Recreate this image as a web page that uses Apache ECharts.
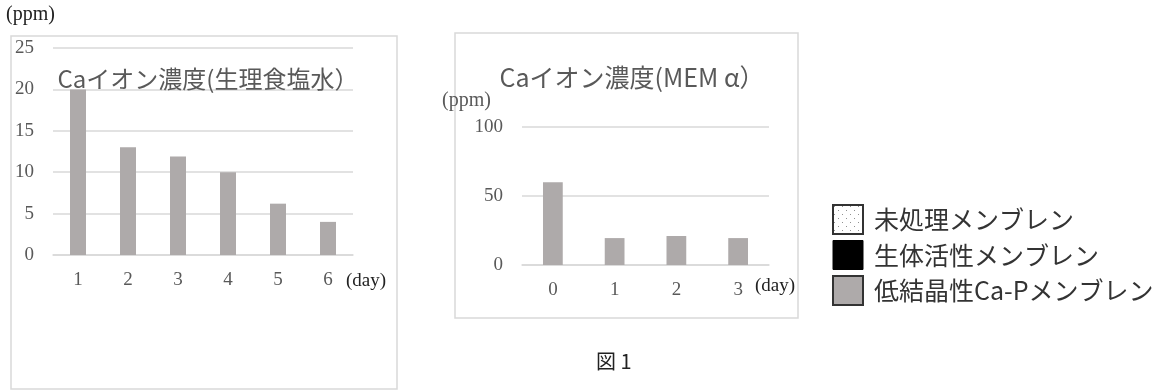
<!DOCTYPE html>
<html>
<head>
<meta charset="utf-8">
<script src="https://cdn.jsdelivr.net/npm/echarts@6/dist/echarts.min.js"></script>
<style>
  html, body { margin: 0; padding: 0; background: #fff; }
  #main { width: 1171px; height: 391px; }
</style>
</head>
<body>
<div id="main"></div>
<script>
// 生理食塩水
var salineDays = ['1', '2', '3', '4', '5', '6'];
var salineCaP = [20, 13, 11.9, 10, 6.2, 4];
// MEMα
var memDays = ['0', '1', '2', '3'];
var memCaP = [60, 19.5, 21, 19.5];
var seriesNames = ['未処理メンブレン', '生体活性メンブレン', '低結晶性Ca-Pメンブレン'];

var serif = '"Liberation Serif", "DejaVu Serif", serif';
var jp = '"Noto Sans CJK JP", sans-serif';
var gray = '#595959';

// 点々のパターン
function dotPattern () {
  var c = document.createElement('canvas');
  c.width = 8; c.height = 8;
  var ctx = c.getContext('2d');
  ctx.fillStyle = '#fff';
  ctx.fillRect(0, 0, 8, 8);
  ctx.fillStyle = '#909090';
  ctx.fillRect(1, 1, 1, 1);
  ctx.fillRect(5, 5, 1, 1);
  return { image: c, repeat: 'repeat' };
}

var myChart = echarts.init(document.getElementById('main'));

function yAxisOf (idx, max, interval) {
  return {
    gridIndex: idx, type: 'value', min: 0, max: max, interval: interval,
    axisLine: { show: false }, axisTick: { show: false },
    axisLabel: { color: gray, fontFamily: serif, fontSize: 19, margin: 19 },
    splitLine: { lineStyle: { color: '#d9d9d9', width: 1.5 } }
  };
}
function xAxisOf (idx, data, margin) {
  return {
    gridIndex: idx, type: 'category', data: data,
    axisLine: { lineStyle: { color: '#d9d9d9', width: 1.5 } },
    axisTick: { show: false },
    axisLabel: { color: gray, fontFamily: serif, fontSize: 19, margin: margin }
  };
}
function barsOf (idx, data) {
  return seriesNames.map(function (name, i) {
    return {
      name: name, type: 'bar', xAxisIndex: idx, yAxisIndex: idx,
      data: i === 2 ? data : [],
      barWidth: '32%', barGap: '-100%',
      itemStyle: { color: '#aeaaaa' },
      silent: true
    };
  });
}

var option = {
  animation: false,
  title: [{
    text: 'Caイオン濃度(生理食塩水）',
    left: 203, top: 62, textAlign: 'center',
    textStyle: { fontFamily: jp, fontWeight: 'normal', fontSize: 24, color: gray }
  }, {
    text: 'Caイオン濃度(MEM α）',
    left: 627, top: 60, textAlign: 'center',
    textStyle: { fontFamily: jp, fontWeight: 'normal', fontSize: 25, color: gray }
  }],
  legend: {
    orient: 'vertical', left: 827, top: 199,
    icon: 'rect', itemWidth: 30, itemHeight: 29, itemGap: 5,
    selectedMode: false,
    textStyle: { fontFamily: jp, fontSize: 25, color: '#333', padding: [0, 0, 0, 6] },
    data: [
      { name: seriesNames[0], itemStyle: { color: dotPattern(), borderColor: '#333', borderWidth: 2 } },
      { name: seriesNames[1], itemStyle: { color: '#000', borderColor: '#000', borderWidth: 1 } },
      { name: seriesNames[2], itemStyle: { color: '#aeaaaa', borderColor: '#333', borderWidth: 2 } }
    ]
  },
  grid: [
    { left: 53, right: 818, top: 48, bottom: 136 },
    { left: 522, right: 402, top: 127, bottom: 126 }
  ],
  xAxis: [xAxisOf(0, salineDays, 16), xAxisOf(1, memDays, 16)],
  yAxis: [yAxisOf(0, 25, 5), yAxisOf(1, 100, 50)],
  series: barsOf(0, salineCaP).concat(barsOf(1, memCaP)),
  graphic: [
    { type: 'rect', shape: { x: 11, y: 36, width: 386, height: 353 }, style: { fill: 'none', stroke: '#d9d9d9', lineWidth: 1.5 } },
    { type: 'rect', shape: { x: 455, y: 33, width: 343, height: 285 }, style: { fill: 'none', stroke: '#d9d9d9', lineWidth: 1.5 } },
    { type: 'text', left: 6, top: 5, style: { text: '(ppm)', font: '20px ' + serif, fill: '#222' } },
    { type: 'text', left: 442, top: 91, style: { text: '(ppm)', font: '20px ' + serif, fill: gray } },
    { type: 'text', left: 346, top: 272, style: { text: '(day)', font: '19px ' + serif, fill: '#222' } },
    { type: 'text', left: 755, top: 277, style: { text: '(day)', font: '19px ' + serif, fill: '#222' } },
    { type: 'text', left: 596, top: 351, style: { text: '図 1', font: '20px ' + jp, fill: '#222' } }
  ]
};
myChart.setOption(option);
window.addEventListener('resize', function () {
  myChart.resize();
});
</script>
</body>
</html>
